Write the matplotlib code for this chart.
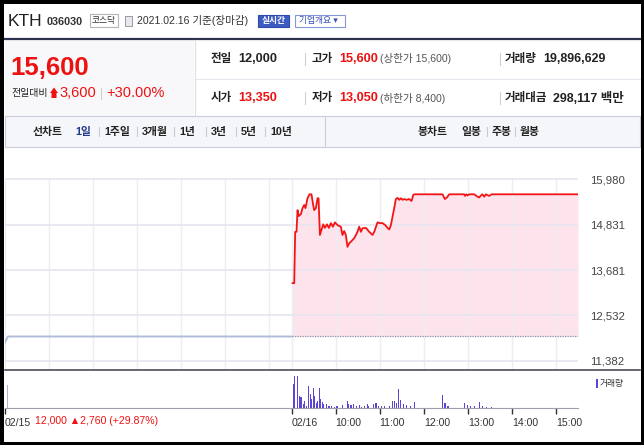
import numpy as np
import matplotlib.pyplot as plt
from matplotlib.patches import Rectangle, Polygon
from matplotlib.lines import Line2D

plt.rcParams['font.family'] = ['Liberation Sans', 'Noto Sans CJK KR', 'DejaVu Sans']

W, H = 644, 445

# 02/15 (minutes after 09:00) - line stayed at the upper limit
prev_t = [0, 4, 390]
prev_p = [11850, 12000, 12000]

# 02/16 (minutes after 09:00)
today_t = [1.4, 3.7, 5, 6.8, 8.2, 10, 12.8, 15, 17.3, 19, 21.8, 24.5, 27.2, 29.5,
           30.9, 33.2, 35.4, 36.8, 38.7, 40.8, 43.2, 45.5, 48.2, 50.9, 53.6, 56.4,
           59.1, 62.6, 67.2, 69.4, 71.7, 74, 76.2, 78.5, 80.9, 85.4, 87.7, 89.8,
           92.2, 94.5, 96.6, 101.3, 103.5, 105.8, 108.1, 110.3, 112.6, 117.1,
           120.3, 123.9, 127.6, 130.7, 133, 135.3, 137.5, 139.8, 142.1, 144.3,
           146.6, 148.9, 151.1, 153.4, 156.5, 160.2, 163.4, 165.7, 167, 205.6,
           208.8, 211.6, 214.7, 235.1, 236.1, 238.2, 239.6, 241.9, 248.7, 253.2,
           255.5, 257.8, 260, 262.3, 264.6, 266.8, 269.1, 272.3, 390]
today_p = [13350, 13350, 14650, 14650, 15200, 15050, 15100, 15250, 15330, 15250,
           15500, 15600, 15600, 15330, 15200, 15250, 15500, 15500, 14570, 14700,
           14840, 14750, 14840, 14750, 14870, 14780, 14890, 14820, 14780, 14570,
           14670, 14570, 14270, 14360, 14400, 14490, 14570, 14650, 14780, 14650,
           14740, 14750, 14700, 14650, 14610, 14570, 14650, 14890, 14870, 14870,
           14820, 14750, 14710, 14820, 15030, 15250, 15480, 15510, 15460, 15500,
           15460, 15480, 15460, 15480, 15430, 15580, 15600, 15600, 15480, 15520,
           15600, 15600, 15560, 15600, 15570, 15600, 15600, 15540, 15520, 15570,
           15600, 15540, 15600, 15580, 15560, 15600, 15600]

# volume (thousand shares)
vol_prev_t = [3, 6, 9, 12]
vol_prev = [920, 20, 15, 15]
vol_t = [2.3, 4, 8, 10.5, 13, 16, 18, 20, 22.7, 25.4, 27, 29.5, 31.8, 33.5, 35, 38,
         40, 42, 44, 48, 51, 54, 58, 62, 69, 76, 78, 81, 85, 88, 92, 95, 99, 103,
         105, 112, 115, 118, 123, 127, 133, 138, 140, 143, 146, 148, 152, 157, 162,
         167, 206, 209, 213, 236, 240, 244, 249, 256, 260, 265, 272]
vol = [960, 1280, 1280, 480, 440, 160, 280, 80, 880, 560, 360, 820, 480, 220, 280,
       800, 360, 240, 160, 160, 100, 100, 50, 100, 120, 300, 160, 120, 160, 80, 120,
       60, 100, 160, 80, 160, 220, 80, 80, 80, 80, 280, 300, 200, 760, 320, 160, 120,
       80, 260, 520, 200, 80, 220, 120, 80, 80, 240, 80, 60, 60]

price_ticks = [11382, 12532, 13681, 14831, 15980]
prev_close = 12000
grid_t = [0, 60, 120, 180, 240, 300, 360, 390, 450, 510, 570, 630, 690, 750]
time_ticks = [0, 390, 450, 510, 570, 630, 690, 750]
time_labels = ['02/15', '02/16', '10:00', '11:00', '12:00', '13:00', '14:00', '15:00']

fig = plt.figure(figsize=(W / 100, H / 100), dpi=100)
fig.patch.set_facecolor('white')


def box(x0, y0, x1, y1):
    return [x0 / W, 1 - y1 / H, (x1 - x0) / W, (y1 - y0) / H]


def T(x, y, s, size, color='#222222', weight='normal', ha='left', **kw):
    fig.text(x / W, 1 - y / H, s, fontsize=size, color=color, weight=weight,
             ha=ha, va='center', **kw)


def rect(x0, y0, x1, y1, fc='none', ec='none', lw=0.8, z=0):
    fig.patches.append(Rectangle((x0 / W, 1 - y1 / H), (x1 - x0) / W, (y1 - y0) / H,
                                 transform=fig.transFigure, fc=fc, ec=ec, lw=lw, zorder=z))


def hline(x0, x1, y, color, lw=0.8):
    fig.lines.append(Line2D([x0 / W, x1 / W], [1 - y / H, 1 - y / H],
                            transform=fig.transFigure, color=color, lw=lw))


def vline(x, y0, y1, color, lw=0.8):
    fig.lines.append(Line2D([x / W, x / W], [1 - y0 / H, 1 - y1 / H],
                            transform=fig.transFigure, color=color, lw=lw))


# ---- header ----
T(8, 21, 'KTH', 12.5, '#222222')
T(47, 22, '036030', 7.8, '#333333', 'bold')
rect(90, 14, 118, 27, fc='white', ec='#b5b5b5')
T(104, 20.5, '코스닥', 6.3, '#333333', ha='center')
rect(125, 16, 132, 26, fc='#e8e8ee', ec='#9a9aa5', lw=0.7)
T(137, 21, '2021.02.16 기준(장마감)', 7.6, '#333333')
rect(258, 15, 289, 27, fc='#3d5cc2', ec='#2f4aa8')
T(273.5, 20.5, '실시간', 6.3, 'white', 'bold', ha='center')
rect(295, 15, 345, 27, fc='white', ec='#8798d6')
T(299, 20.5, '기업개요 ▾', 6.3, '#3350b8')
hline(5, 640, 38.5, '#2d3350', lw=1.6)

# ---- quote panel ----
rect(5, 40, 194, 116, fc='#f8f8fa')
vline(194.5, 40, 116, '#dcdde5')
T(10, 68, '15,600', 18.5, '#ee1111', 'bold')
T(11, 93, '전일대비', 7.2, '#222222')
fig.patches.append(Polygon([(50 / W, 1 - 93 / H), (54 / W, 1 - 87.5 / H), (58 / W, 1 - 93 / H),
                            (56.5 / W, 1 - 93 / H), (56.5 / W, 1 - 98 / H), (51.5 / W, 1 - 98 / H),
                            (51.5 / W, 1 - 93 / H)], closed=True, transform=fig.transFigure,
                           fc='#ee1111', ec='none'))
T(59.5, 93, '3,600', 10.5, '#ee1111')
vline(101, 88, 99, '#cfcfd6')
T(106, 93, '+30.00%', 10.5, '#ee1111')

hline(195, 640, 79, '#e4e5ec')
for y, l1, v1, l2, v2, n2, l3, v3 in [
        (59, '전일', '12,000', '고가', '15,600', '(상한가 15,600)', '거래량', '19,896,629'),
        (98, '시가', '13,350', '저가', '13,050', '(하한가 8,400)', '거래대금', '298,117 백만')]:
    T(211, y, l1, 8.3, '#222222', 'bold')
    T(238, y, v1, 9.2, '#ee1111' if l1 == '시가' else '#222222', 'bold')
    vline(305, y - 6, y + 6, '#cfcfd6')
    T(312, y, l2, 8.3, '#222222', 'bold')
    T(339, y, v2, 9.2, '#ee1111', 'bold')
    T(380, y, n2, 7.6, '#555555')
    vline(500, y - 6, y + 6, '#cfcfd6')
    T(505, y, l3, 8.3, '#222222', 'bold')
    T(543 if l3 == '거래량' else 553, y, v3, 9.0, '#222222', 'bold')

# ---- tab bar ----
rect(5, 116, 640, 147, fc='#f5f6fa', ec='#c9cddc', lw=0.8)
vline(325, 116, 147, '#c9cddc')
tabs = [(33, '선차트'), (75, '1일'), (104, '1주일'), (142, '3개월'), (179, '1년'),
        (211, '3년'), (241, '5년'), (270, '10년')]
for i, (x, s) in enumerate(tabs):
    T(x, 131.5, s, 7.8, '#1f3a8a' if s == '1일' else '#222222', 'bold')
    if i >= 2:
        vline(x - 5, 127, 136, '#c9cad2')
for i, (x, s) in enumerate([(418, '봉차트'), (461, '일봉'), (492, '주봉'), (520, '월봉')]):
    T(x, 131.5, s, 7.8, '#222222', 'bold')
    if i >= 2:
        vline(x - 5, 127, 136, '#c9cad2')

# ---- price chart ----
y_top, y_bot = 178, 369.5
k = 1149.5 / 45.4
ax = fig.add_axes(box(5, y_top, 578, y_bot))
ax.set_xlim(0, 780)
ax.set_ylim(15980 - (y_bot - 179.3) * k, 15980 + (179.3 - y_top) * k)
t2 = np.array(today_t) + 390
ax.fill_between(t2, today_p, prev_close, color='#fde4ec', lw=0, zorder=1)
ax.plot(prev_t, prev_p, color='#aebbd9', lw=1.4, zorder=3)
ax.plot([390, 780], [prev_close, prev_close], color='#8c93a6', lw=0.9, ls=(0, (1, 1)), zorder=3)
ax.plot(t2, today_p, color='#f31515', lw=1.3, zorder=4)
ax.set_yticks(price_ticks)
ax.set_yticklabels([f'{v:,}' for v in price_ticks])
ax.set_xticks(grid_t)
ax.yaxis.tick_right()
ax.tick_params(axis='y', length=0, pad=9, labelsize=8.2, labelcolor='#444444')
ax.tick_params(axis='x', length=0, labelbottom=False)
ax.set_axisbelow('line')
ax.grid(axis='y', color='#e3e4ee', lw=1.1)
ax.grid(axis='x', color='#eceef5', lw=1.0)
for sp in ax.spines.values():
    sp.set_visible(False)

hline(5, 640, 370, '#4a4d5c', lw=1.2)

# ---- volume ----
axv = fig.add_axes(box(5, 370.5, 578, 408))
axv.set_xlim(0, 780)
axv.set_ylim(0, 38 * 40)
axv.bar(vol_prev_t, vol_prev, width=1.5, color='#aab5d3', lw=0)
axv.bar(np.array(vol_t) + 390, vol, width=1.5, color='#5a45d4', lw=0)
axv.set_xticks(time_ticks)
axv.set_xticklabels(time_labels)
for lab in axv.get_xticklabels():
    lab.set_horizontalalignment('left')
axv.tick_params(axis='x', length=4, width=1, color='#333333', pad=3,
                labelsize=7.6, labelcolor='#333333')
axv.set_yticks([])
for s in ['top', 'left', 'right']:
    axv.spines[s].set_visible(False)
axv.spines['bottom'].set_color('#9da0ad')
axv.spines['bottom'].set_linewidth(0.8)

rect(596, 379, 598, 388, fc='#5a45d4')
T(600, 383.5, '거래량', 6.3, '#333333')
T(35, 421, '12,000 ▲2,760 (+29.87%)', 7.6, '#ee1111')

# ---- screenshot border ----
rect(0, 0, 4, 445, fc='black', z=10)
rect(640.5, 0, 644, 445, fc='black', z=10)
rect(0, 0, 644, 3.5, fc='black', z=10)
rect(0, 441.5, 644, 445, fc='black', z=10)

fig.savefig('out.png', dpi=100)
